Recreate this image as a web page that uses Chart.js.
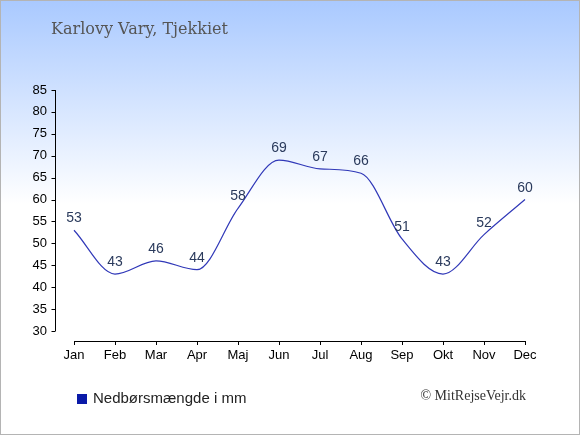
<!DOCTYPE html>
<html>
<head>
<meta charset="utf-8">
<script src="https://cdn.jsdelivr.net/npm/chart.js@4"></script>
<style>
  body { margin: 0; }
  .wrap {
    position: relative;
    width: 580px;
    height: 435px;
    background: linear-gradient(to bottom, #a9c9ff 0%, #ffffff 47%, #ffffff 100%);
  }
  .frame {
    position: absolute; left: 0; top: 0; width: 580px; height: 435px;
    box-sizing: border-box; border: 1px solid #b4b4b4; pointer-events: none;
  }
  .title {
    position: absolute; left: 51px; top: 19px;
    font: 16px "DejaVu Serif", serif; color: #555;
  }
  .copy {
    position: absolute; right: 54px; top: 388px;
    font: 14px "Liberation Serif", serif; color: #333;
  }
  canvas { position: absolute; left: 0; top: 0; }
</style>
</head>
<body>
<div class="wrap">
  <canvas id="rainChart" width="580" height="435"></canvas>
  <div class="title">Karlovy Vary, Tjekkiet</div>
  <div class="copy">© MitRejseVejr.dk</div>
  <div class="frame"></div>
</div>
<script>
  const months = ['Jan', 'Feb', 'Mar', 'Apr', 'Maj', 'Jun', 'Jul', 'Aug', 'Sep', 'Okt', 'Nov', 'Dec'];
  const rainfall = [53, 43, 46, 44, 58, 69, 67, 66, 51, 43, 52, 60];
  const yTicks = [30, 35, 40, 45, 50, 55, 60, 65, 70, 75, 80, 85];
  const seriesLabel = 'Nedbørsmængde i mm';

  // y-aksen står lidt fra plotområdet, tegnes selv
  const sideAxis = {
    id: 'sideAxis',
    afterDraw(chart) {
      const ctx = chart.ctx;
      const y = chart.scales.y;
      const x0 = chart.chartArea.left - 18.5;
      ctx.save();
      ctx.strokeStyle = '#000';
      ctx.lineWidth = 1;
      ctx.beginPath();
      ctx.moveTo(x0, y.getPixelForValue(yTicks[yTicks.length - 1]));
      ctx.lineTo(x0, y.getPixelForValue(yTicks[0]));
      yTicks.forEach(v => {
        const py = Math.round(y.getPixelForValue(v)) + 0.5;
        ctx.moveTo(x0 - 4, py);
        ctx.lineTo(x0, py);
      });
      ctx.stroke();
      ctx.restore();
    }
  };

  // værdier over punkterne + forklaring
  const labelsAndLegend = {
    id: 'labelsAndLegend',
    afterDatasetsDraw(chart) {
      const ctx = chart.ctx;
      const meta = chart.getDatasetMeta(0);
      ctx.save();
      ctx.font = '14px "Liberation Sans", Arial, sans-serif';
      ctx.fillStyle = '#2a3a5c';
      ctx.textAlign = 'center';
      ctx.textBaseline = 'alphabetic';
      meta.data.forEach((pt, i) => {
        ctx.fillText(String(rainfall[i]), pt.x, pt.y - 8);
      });

      ctx.fillStyle = '#0a1aa8';
      ctx.fillRect(77, 394, 10, 10);
      ctx.font = '15px "Liberation Sans", Arial, sans-serif';
      ctx.fillStyle = '#222';
      ctx.textAlign = 'left';
      ctx.fillText(seriesLabel, 93, 403);
      ctx.restore();
    }
  };

  const ctx = document.getElementById('rainChart').getContext('2d');
  const rainChart = new Chart(ctx, {
    type: 'line',
    data: {
      labels: months,
      datasets: [{
        label: seriesLabel,
        data: rainfall,
        borderColor: '#3038b8',
        borderWidth: 1.2,
        pointRadius: 0,
        fill: false,
        cubicInterpolationMode: 'monotone',
        clip: false
      }]
    },
    options: {
      responsive: false,
      devicePixelRatio: 1,
      animation: false,
      layout: { padding: { left: 0, right: 55, top: 90, bottom: 64 } },
      plugins: {
        legend: { display: false },
        tooltip: { enabled: false }
      },
      scales: {
        x: {
          offset: false,
          afterFit: s => { s.height = 30; },
          border: { display: true, color: '#000', width: 1 },
          grid: { display: true, drawOnChartArea: false, tickLength: 4, color: '#000' },
          ticks: {
            padding: 3,
            color: '#000',
            font: { family: '"Liberation Sans", Arial, sans-serif', size: 13 },
            maxRotation: 0,
            autoSkip: false
          }
        },
        y: {
          min: 30 - 10 * 55 / 241,
          max: 85,
          afterFit: s => { s.width = 74; },
          afterBuildTicks: s => { s.ticks = yTicks.map(v => ({ value: v })); },
          border: { display: false },
          grid: { display: false, drawTicks: false },
          ticks: {
            padding: 27,
            color: '#000',
            font: { family: '"Liberation Sans", Arial, sans-serif', size: 13 },
            callback: v => v
          }
        }
      }
    },
    plugins: [sideAxis, labelsAndLegend]
  });
</script>
</body>
</html>
